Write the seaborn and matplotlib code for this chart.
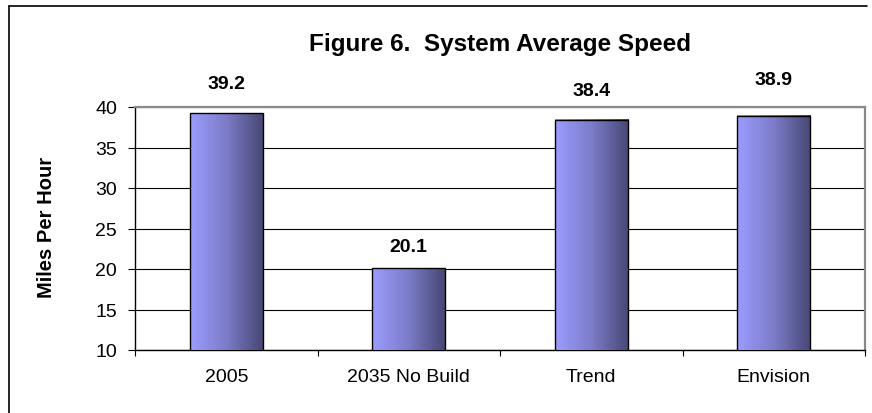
import numpy as np
import pandas as pd
import seaborn as sns
import matplotlib.pyplot as plt
from matplotlib.colors import LinearSegmentedColormap
from matplotlib.lines import Line2D

# Average network speed by scenario (mph)
scenarios = ["2005", "2035 No Build", "Trend", "Envision"]
avg_speed = [39.2, 20.1, 38.4, 38.9]
y_ticks = [10, 15, 20, 25, 30, 35, 40]

# How far (points) each value label sits above its bar
label_lift = [21.6, 15.6, 21.2, 25.9]

sns.set_theme(style="white")
plt.rcParams["font.family"] = ["Liberation Sans", "DejaVu Sans"]

W, H = 872, 414
fig = plt.figure(figsize=(W / 100, H / 100), dpi=100)
fig.patch.set_facecolor("white")

ax = fig.add_axes([135 / W, 1 - 351 / H, 730 / W, 243 / H])
df = pd.DataFrame({"scenario": scenarios, "speed": avg_speed})
sns.barplot(data=df, x="scenario", y="speed", color="#9999FF", width=0.4,
            saturation=1, edgecolor="black", linewidth=1.0, ax=ax)

ax.set_ylim(y_ticks[0], y_ticks[-1])
ax.set_yticks(y_ticks)
ax.set_xlim(-0.5, len(scenarios) - 0.5)

# Horizontal shading across each bar: light periwinkle to deep slate
shade = LinearSegmentedColormap.from_list("bar_shade", ["#9C9CFF", "#7C7CC8", "#474776"])
grad = np.linspace(0, 1, 256).reshape(1, -1)
for patch in list(ax.patches):
    x0, y0 = patch.get_x(), patch.get_y()
    w, h = patch.get_width(), patch.get_height()
    bottom = max(y0, y_ticks[0])
    im = ax.imshow(grad, cmap=shade, aspect="auto", extent=[x0, x0 + w, bottom, y0 + h],
                   zorder=3, interpolation="bicubic")
    patch.set_facecolor("none")
    patch.set_zorder(4)

# Value labels
for i, (v, lift) in enumerate(zip(avg_speed, label_lift)):
    ax.annotate(f"{v:.1f}", xy=(i, v), xytext=(0, lift), textcoords="offset points",
                ha="center", va="center", fontsize=14, fontweight="bold", color="black",
                annotation_clip=False)

# Grid and frame
ax.set_axisbelow(True)
ax.yaxis.grid(True, color="black", linewidth=0.8)
ax.xaxis.grid(False)
for side in ("left", "bottom"):
    ax.spines[side].set_color("black")
    ax.spines[side].set_linewidth(1.0)
for side in ("top", "right"):
    ax.spines[side].set_color("#8a8a8a")
    ax.spines[side].set_linewidth(1.6)

ax.set_xlabel("")
ax.set_ylabel("")
ax.tick_params(axis="y", direction="out", length=5, width=0.8, color="black",
               pad=8, labelsize=14, left=True)
ax.tick_params(axis="x", which="major", length=0, pad=13, labelsize=14)
ax.set_xticks(np.arange(-0.5, len(scenarios)), minor=True)
ax.tick_params(axis="x", which="minor", direction="out", length=4.5, width=0.8,
               color="black", bottom=True)
for lbl in ax.get_xticklabels() + ax.get_yticklabels():
    lbl.set_color("black")

fig.text(500 / W, 1 - 45 / H, "Figure 6.  System Average Speed", ha="center", va="center",
         fontsize=17.5, fontweight="bold", color="black")
fig.text(46 / W, 1 - 227 / H, "Miles Per Hour", ha="center", va="center", rotation=90,
         fontsize=14.5, fontweight="bold", color="black")

# Chart frame (left and top edges)
fig.add_artist(Line2D([9 / W, 9 / W], [0, 1 - 7 / H], color="black", linewidth=1.2,
                      transform=fig.transFigure))
fig.add_artist(Line2D([9 / W, 867 / W], [1 - 7 / H, 1 - 7 / H], color="black",
                      linewidth=1.2, transform=fig.transFigure))

fig.savefig("out.png", dpi=100)
